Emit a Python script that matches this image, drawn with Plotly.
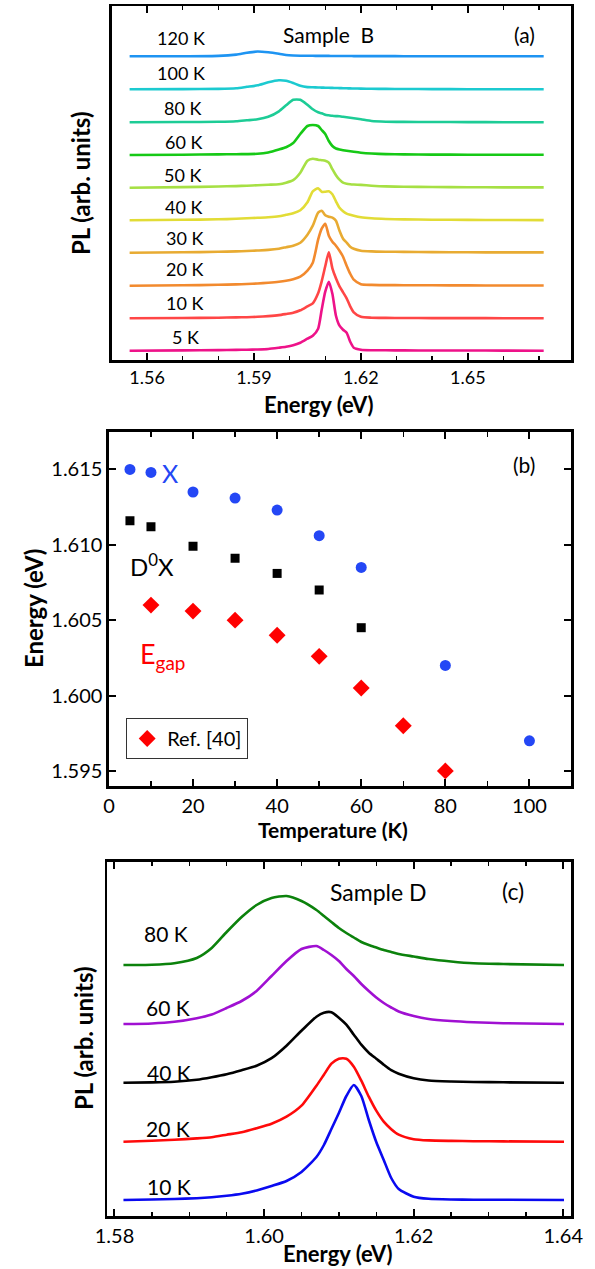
import plotly.graph_objects as go

W, H = 595, 1269
FONT = "Lato"

# ---------------- Panel (a): Sample B spectra ----------------
energy_a = [1.5551, 1.570, 1.580, 1.585, 1.588, 1.591, 1.594, 1.597, 1.599, 1.601,
            1.603, 1.605, 1.6065, 1.608, 1.609, 1.610, 1.611, 1.612, 1.613, 1.614,
            1.615, 1.616, 1.617, 1.618, 1.620, 1.623, 1.627, 1.632, 1.640, 1.650,
            1.660, 1.6713]
temps_a = ["5 K", "10 K", "20 K", "30 K", "40 K", "50 K", "60 K", "80 K", "100 K", "120 K"]
offsets_a = [9.3, 41.7, 74.3, 107.3, 139.7, 172.3, 205.0, 237.7, 270.7, 303.7]
pl_5K = [0, 0.3, 0.6, 0.8, 1, 1.2, 1.7, 3, 4, 5.5, 8, 12, 15, 22, 41, 59, 69, 57, 35, 25,
         21, 18, 9, 3, 1, 0.5, 0.4, 0.3, 0.2, 0.2, 0.1, 0]
pl_10K = [0, 0.3, 0.6, 0.9, 1.1, 1.5, 2.2, 3.2, 4.3, 5.5, 8, 12, 15, 25, 37, 52, 66, 50, 40, 32,
          26, 20, 12, 6, 1.5, 0.6, 0.4, 0.3, 0.2, 0.2, 0.1, 0]
pl_20K = [0, 0.4, 0.9, 1.3, 1.7, 2.2, 3, 4, 5, 6.5, 9, 15, 23, 46, 57, 62, 50, 44, 40, 35,
          29, 20, 12, 6, 1.5, 0.8, 0.6, 0.5, 0.4, 0.3, 0.2, 0.2]
pl_30K = [0, 0.4, 0.9, 1.3, 1.7, 2.2, 2.8, 4, 5.5, 7, 10, 18, 27, 40, 42, 37.5, 36, 35, 32, 22,
          14, 10, 6, 4, 2, 1.3, 1, 0.8, 0.6, 0.4, 0.3, 0.3]
pl_40K = [0, 0.5, 1, 1.5, 2, 2.5, 3, 4, 5.5, 7, 10, 18, 29, 32, 28.5, 28.5, 29, 26, 19, 12.5,
          9, 6.7, 5.5, 4.5, 3, 2, 1.3, 0.9, 0.6, 0.4, 0.3, 0.2]
pl_50K = [0, 0.6, 1.2, 1.6, 2, 2.5, 3, 3.5, 5, 7.5, 15, 27, 29, 28, 27.5, 27, 25, 18.5, 12.5, 8,
          5, 4, 3.5, 3.2, 2.8, 2, 1.3, 1, 0.7, 0.5, 0.3, 0.3]
pl_60K = [0, 0.3, 0.6, 0.8, 0.9, 1.2, 2.6, 5.5, 7.8, 12, 21, 29, 30, 29, 25, 21, 14, 9, 6.5, 5.5,
          4.8, 4.2, 3.7, 3.2, 2.3, 1.5, 0.9, 0.6, 0.4, 0.3, 0.2, 0.2]
pl_80K = [0, 0.3, 0.5, 1, 2, 3, 5.5, 11, 17, 22.5, 22.5, 17.5, 13, 10, 9, 7.5, 7, 6.5, 6.2, 6,
          5.5, 5, 4.5, 4, 3, 1.3, 0.6, 0.4, 0.3, 0.2, 0.1, 0.1]
pl_100K = [0, 0.2, 0.4, 1, 2.5, 4, 7, 9, 8.5, 6.3, 3.5, 2.2, 2, 1.8, 1.7, 1.6, 1.5, 1.4, 1.3, 1.2,
           1.1, 1, 0.9, 0.8, 0.7, 0.5, 0.4, 0.3, 0.2, 0.1, 0.1, 0]
pl_120K = [0, 0.1, 0.4, 1.7, 3.5, 4.8, 4, 2.5, 1.3, 0.8, 0.6, 0.5, 0.5, 0.4, 0.4, 0.4, 0.4, 0.3, 0.3, 0.3,
           0.3, 0.3, 0.3, 0.2, 0.2, 0.2, 0.2, 0.1, 0.1, 0.1, 0, 0]
spectra_a = [pl_5K, pl_10K, pl_20K, pl_30K, pl_40K, pl_50K, pl_60K, pl_80K, pl_100K, pl_120K]
colors_a = ["#ee1289", "#ff4646", "#f28a2e", "#e8ab32", "#e2dc36", "#a6e044",
            "#16c916", "#1dcc96", "#1ccad0", "#1e94f2"]

# ---------------- Panel (b): peak energies vs temperature ----------------
T_X = [5, 10, 20, 30, 40, 50, 60, 80, 100]
E_X = [1.6150, 1.6148, 1.6135, 1.6131, 1.6123, 1.6106, 1.6085, 1.6020, 1.5970]
T_D0X = [5, 10, 20, 30, 40, 50, 60]
E_D0X = [1.6116, 1.6112, 1.6099, 1.6091, 1.6081, 1.6070, 1.6045]
T_gap = [10, 20, 30, 40, 50, 60, 70, 80]
E_gap = [1.6060, 1.6056, 1.6050, 1.6040, 1.6026, 1.6005, 1.5980, 1.5950]

# ---------------- Panel (c): Sample D spectra ----------------
energy_c = [1.5812, 1.585, 1.588, 1.591, 1.593, 1.595, 1.597, 1.599, 1.601, 1.603,
            1.605, 1.607, 1.608, 1.609, 1.610, 1.611, 1.612, 1.613, 1.614, 1.615,
            1.616, 1.617, 1.618, 1.620, 1.622, 1.625, 1.628, 1.632, 1.6401]
temps_c = ["10 K", "20 K", "40 K", "60 K", "80 K"]
offsets_c = [16.0, 74.3, 133.3, 192.0, 251.0]
plc_10K = [0, 0.5, 1, 1.8, 2.8, 4.3, 6.3, 9.5, 14, 19, 28, 43, 55, 71, 87, 104, 115, 104, 80, 58,
           40, 22, 11, 3.3, 1.2, 0.5, 0.3, 0.2, 0]
plc_20K = [0, 1, 2, 3.3, 4.5, 7, 9.5, 13.5, 18, 25, 36, 56, 67, 78, 83, 83, 75, 61, 45, 31,
           20, 12.5, 7, 2.5, 1.3, 0.8, 0.5, 0.3, 0]
plc_40K = [0, 0.3, 1, 3, 5.5, 8.5, 12.5, 17, 24.5, 37, 52, 66, 70, 70.5, 65, 58, 48, 38, 30, 24,
           18, 12.5, 9, 4.5, 2.2, 1.2, 0.7, 0.4, 0]
plc_60K = [0, 0.5, 2.2, 5.8, 9.5, 16, 23, 33, 48, 63, 75, 78, 74, 69, 63, 55, 48, 40, 33, 26.5,
           21, 16.5, 12.5, 8, 5, 3, 1.8, 0.8, 0]
plc_80K = [0, 0.3, 1.8, 7, 17, 33, 48, 60, 67, 69, 64, 55, 49, 43, 37, 32, 27.5, 23, 20, 17.5,
           15, 13, 11, 8.5, 6, 3.5, 1.7, 1, 0]
spectra_c = [plc_10K, plc_20K, plc_40K, plc_60K, plc_80K]
colors_c = ["#0a0af0", "#ff0a0a", "#000000", "#a010d2", "#0c820c"]


def px(x):
    return x / W


def py(y):
    return 1 - y / H


fig = go.Figure()

for name, off, vals, col in zip(temps_a, offsets_a, spectra_a, colors_a):
    fig.add_trace(go.Scatter(x=energy_a, y=[off + v for v in vals], mode="lines",
                             line=dict(color=col, width=2.6, shape="spline", smoothing=0.6),
                             xaxis="x", yaxis="y", showlegend=False, name=name))

fig.add_trace(go.Scatter(x=T_X, y=E_X, mode="markers", xaxis="x2", yaxis="y2",
                         marker=dict(symbol="circle", size=11, color="#2447f5"),
                         showlegend=False, name="X"))
fig.add_trace(go.Scatter(x=T_D0X, y=E_D0X, mode="markers", xaxis="x2", yaxis="y2",
                         marker=dict(symbol="square", size=9, color="#000000"),
                         showlegend=False, name="D0X"))
fig.add_trace(go.Scatter(x=T_gap, y=E_gap, mode="markers", xaxis="x2", yaxis="y2",
                         marker=dict(symbol="diamond", size=13, color="#ff0000"),
                         showlegend=True, name="Ref. [40]"))

for name, off, vals, col in zip(temps_c, offsets_c, spectra_c, colors_c):
    fig.add_trace(go.Scatter(x=energy_c, y=[off + v for v in vals], mode="lines",
                             line=dict(color=col, width=2.6, shape="spline", smoothing=0.6),
                             xaxis="x3", yaxis="y3", showlegend=False, name=name))

frame = dict(showline=True, linecolor="black", linewidth=2.5, showgrid=False,
             zeroline=False, ticks="inside", tickcolor="black", tickwidth=2,
             ticklen=7, mirror="ticks", color="black", ticklabeloverflow="allow")

fig.update_layout(
    width=W, height=H, autosize=False,
    margin=dict(l=0, r=0, t=0, b=0),
    paper_bgcolor="white", plot_bgcolor="white",
    font=dict(family=FONT, color="black"),
    xaxis=dict(**frame, domain=[px(104), px(583)], anchor="y", range=[1.5501, 1.6791],
               tick0=1.56, dtick=0.03, tickformat=".2f", tickfont=dict(size=18),
               minor=dict(ticks="inside", dtick=0.01, tick0=1.56, ticklen=4,
                          tickcolor="black", tickwidth=1.5)),
    yaxis=dict(showline=True, linecolor="black", linewidth=2.5, mirror=True,
               showgrid=False, zeroline=False, ticks="", showticklabels=False,
               domain=[py(360), py(6)], anchor="x", range=[0, 354]),
    xaxis2=dict(**frame, domain=[px(101), px(583)], anchor="y2", range=[0, 110],
                tick0=0, dtick=20, tickfont=dict(size=20),
                minor=dict(ticks="inside", dtick=10, tick0=0, ticklen=5,
                           tickcolor="black", tickwidth=1.5)),
    yaxis2=dict(**frame, domain=[py(786), py(431.7)], anchor="x2", range=[1.594, 1.6175],
                tick0=1.595, dtick=0.005, tickformat=".3f", tickfont=dict(size=20)),
    xaxis3=dict(**frame, domain=[px(99), px(583)], anchor="y3", range=[1.579, 1.6411],
                tick0=1.58, dtick=0.02, tickformat=".2f", tickfont=dict(size=20),
                minor=dict(ticks="inside", dtick=0.005, tick0=1.58, ticklen=4,
                           tickcolor="black", tickwidth=1.5)),
    yaxis3=dict(showline=True, linecolor="black", linewidth=2.5, mirror=True,
                showgrid=False, zeroline=False, ticks="", showticklabels=False,
                domain=[py(1216), py(861.7)], anchor="x3", range=[0, 354.3]),
    legend=dict(x=px(119), y=py(718), xanchor="left", yanchor="top",
                bordercolor="#333333", borderwidth=1, bgcolor="white",
                font=dict(size=20, family=FONT), itemwidth=30,
                tracegroupgap=0),
)

ann = []


def add(text, x, y, size, color="black", bold=False, angle=0):
    t = "<b>" + text + "</b>" if bold else text
    ann.append(dict(text=t, x=px(x), y=py(y), xref="paper", yref="paper",
                    showarrow=False, xanchor="center", yanchor="middle",
                    textangle=angle, font=dict(size=size, color=color, family=FONT)))


# panel (a) texts
label_pos_a = [(181, 337), (180, 303), (180, 269), (180, 238), (179, 207),
               (178, 175), (179, 142), (178, 108), (176, 73), (176, 38)]
for name, (x, y) in zip(temps_a, label_pos_a):
    add(name, x, y, 18)
add("Sample\u00a0 B", 330, 34, 21)
add("(a)", 534, 34, 21)
add("PL (arb. units)", 72, 183, 24, bold=True, angle=-90)
add("Energy (eV)", 320, 404, 22, bold=True)

# panel (b) texts
add("X", 165, 473, 25, color="#2447f5")
add("D<sup>0</sup>X", 146, 565, 24)
add("E<sub>gap</sub>", 157, 655, 27, color="#ff0000")
add("(b)", 534, 465, 21)
add("Energy (eV)", 22, 608, 24, bold=True, angle=-90)
add("Temperature (K)", 334, 830, 21, bold=True)

# panel (c) texts
label_pos_c = [(164, 1186), (163, 1128), (163.5, 1072), (163, 1007), (160.5, 934)]
for name, (x, y) in zip(temps_c, label_pos_c):
    add(name, x, y, 21)
add("Sample D", 382, 892, 23)
add("(c)", 522, 891, 23)
add("PL (arb. units)", 74, 1038, 24, bold=True, angle=-90)
add("Energy (eV)", 340, 1253, 22, bold=True)

fig.update_layout(annotations=ann)
fig.write_html("out.html",
               config={"displayModeBar": False, "staticPlot": True},
               post_script="document.body.style.margin='0px';"
                           "document.body.style.overflow='hidden';")
